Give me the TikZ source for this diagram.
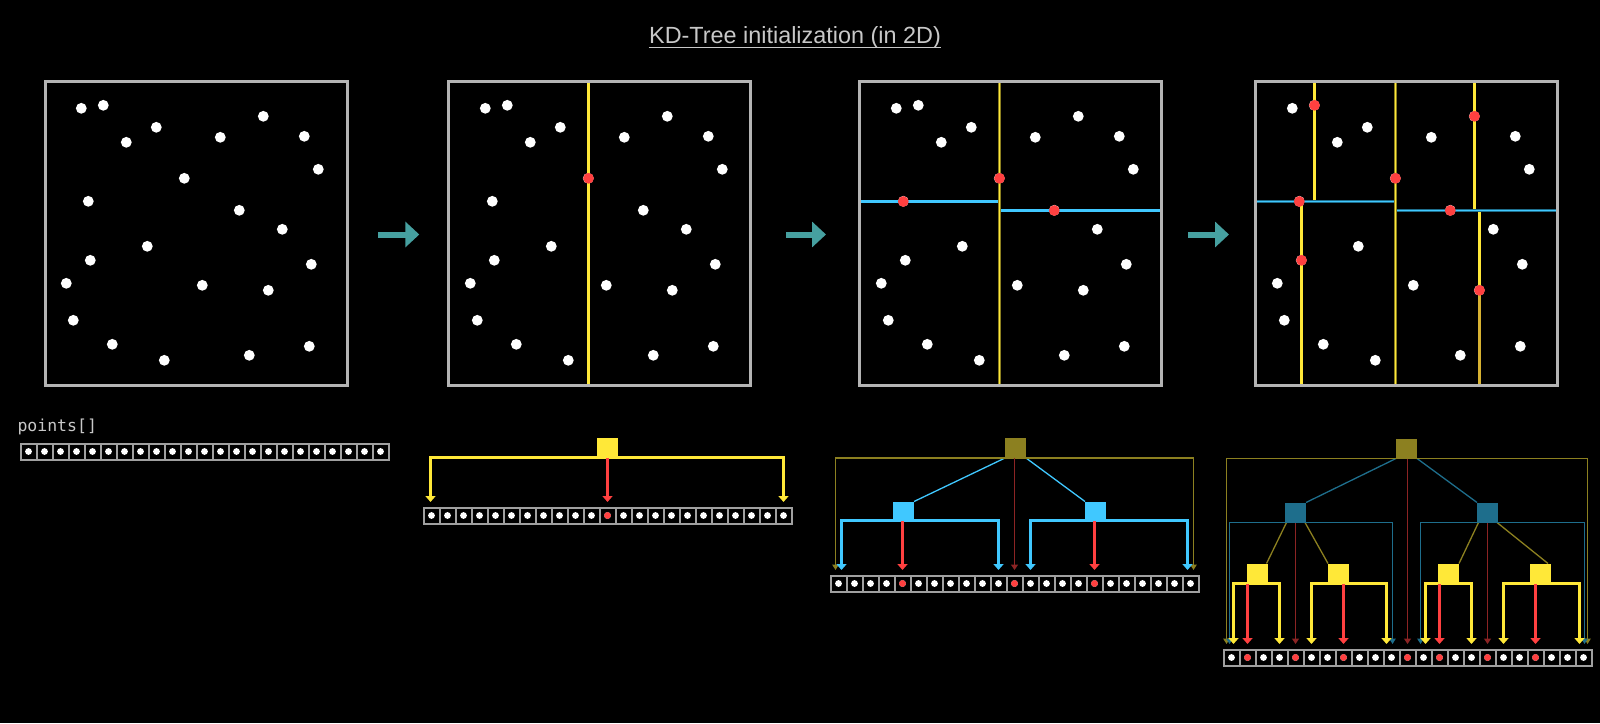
\documentclass[tikz,border=0pt]{standalone}
\usepackage{fontspec}
\setmainfont{Liberation Sans}
\newfontfamily\monof{DejaVu Sans Mono}
\usetikzlibrary{arrows.meta,calc}
\definecolor{cyel}{RGB}{255,232,56}
\definecolor{colive}{RGB}{140,128,32}
\definecolor{ccyan}{RGB}{64,200,255}
\definecolor{csteel}{RGB}{30,110,140}
\definecolor{cred}{RGB}{255,64,64}
\definecolor{cdred}{RGB}{140,36,36}
\definecolor{cgray}{RGB}{180,180,180}
\definecolor{ccell}{RGB}{160,160,160}
\definecolor{cteal}{RGB}{70,160,160}
\definecolor{ctitle}{RGB}{200,200,200}
\definecolor{cgold}{RGB}{215,178,50}
\begin{document}
\begin{tikzpicture}[x=1pt,y=-1pt,
  pbox/.style={draw=cgray,line width=3pt,minimum width=302pt,minimum height=304pt,inner sep=0pt},
  cell/.style={draw=ccell,line width=2pt,minimum width=16pt,minimum height=16pt,inner sep=0pt},
  tbox/.style={minimum width=21pt,minimum height=20pt,inner sep=0pt,outer sep=0pt},
  ybox/.style={tbox,fill=cyel},
  obox/.style={tbox,fill=colive},
  cbox/.style={tbox,fill=ccyan,minimum height=19pt},
  sbox/.style={tbox,fill=csteel},
  brY/.style={draw=cyel,line width=3pt,-{Triangle[width=10pt,length=6pt]}},
  brC/.style={draw=ccyan,line width=3pt,-{Triangle[width=10pt,length=6pt]}},
  rArr/.style={draw=cred,line width=3pt,-{Triangle[width=10pt,length=6pt]}},
  brO/.style={draw=colive,line width=1.3pt,-{Triangle[width=6.5pt,length=5.5pt]}},
  brS/.style={draw=csteel,line width=1.3pt,-{Triangle[width=6.5pt,length=5.5pt]}},
  drArr/.style={draw=cdred,line width=1.3pt,-{Triangle[width=7pt,length=5.5pt]}},
  diagC/.style={draw=ccyan,line width=1.3pt},
  diagS/.style={draw=csteel,line width=1.3pt},
  diagO/.style={draw=colive,line width=1.3pt},
  bigarr/.style={draw=cteal,line width=6pt,-{Triangle[width=25pt,length=14pt]}},
  splitY/.style={draw=cyel,line width=3pt},
  splitC/.style={draw=ccyan,line width=3pt},
]
\fill[black] (0,0) rectangle (1600,723);
\useasboundingbox (0,0) rectangle (1600,723);

% title
\node[font=\fontsize{23.4}{23.4}\selectfont,text=ctitle,inner sep=0pt,anchor=base] (T) at (795,43.3) {KD-Tree initialization (in 2D)};
\draw[ctitle,line width=1.3pt] ([yshift=-4pt]T.base west) -- ([yshift=-4pt]T.base east);

% point sets
\def\pts{81.3/108.3,103.3/105.3,156.3/127.3,126.3/142.3,220.3/137.3,263.3/116.3,304.3/136.3,318.3/169.3,184.3/178.3,88.3/201.3,239.3/210.3,282.3/229.3,147.3/246.3,90.3/260.3,311.3/264.3,66.3/283.3,202.3/285.3,268.3/290.3,73.3/320.3,112.3/344.3,309.3/346.3,164.3/360.3,249.3/355.3}
\foreach \dx in {0,404,815,1211}{
  \foreach \px/\py in \pts { \fill[white] ({\px+\dx},\py) circle (5.4); }
}

% box 2 split
\draw[splitY] (588.5,81) -- (588.5,386);
\fill[cred] (588.5,178.3) circle (5.4);

% box 3 splits
\draw[splitC] (859,201.5) -- (999.5,201.5);
\draw[splitC] (999.5,210.5) -- (1161.5,210.5);
\draw[draw=colive,line width=3pt] (999.5,81) -- (999.5,386);
\draw[draw=cyel,line width=1.2pt] (999.5,81) -- (999.5,386);
\foreach \x/\y in {999.5/178.3,903.3/201.5,1054.3/210.5} \fill[cred] (\x,\y) circle (5.4);

% box 4 splits
\draw[splitY] (1314.5,81) -- (1314.5,201.5);
\draw[splitY] (1301.5,201.5) -- (1301.5,386);
\draw[splitY] (1474.5,81) -- (1474.5,210.5);
\draw[splitY] (1479.5,210.5) -- (1479.5,290.3);
\draw[draw=cgold,line width=3pt] (1479.5,290.3) -- (1479.5,386);
\draw[draw=csteel,line width=3pt] (1255,201.5) -- (1395.5,201.5);
\draw[draw=ccyan,line width=1.2pt] (1255,201.5) -- (1395.5,201.5);
\draw[draw=csteel,line width=3pt] (1395.5,210.5) -- (1558,210.5);
\draw[draw=ccyan,line width=1.2pt] (1395.5,210.5) -- (1558,210.5);
\draw[draw=colive,line width=3pt] (1395.5,81) -- (1395.5,386);
\draw[draw=cyel,line width=1.2pt] (1395.5,81) -- (1395.5,386);
\foreach \x/\y in {1395.5/178.3,1299.3/201.5,1450.3/210.5,1314.5/105.3,1301.5/260.3,1474.5/116.3,1479.5/290.3} \fill[cred] (\x,\y) circle (5.4);

% boxes
\node[pbox] (B1) at (196.5,233.5) {};
\node[pbox] (B2) at (599.5,233.5) {};
\node[pbox] (B3) at (1010.5,233.5) {};
\node[pbox] (B4) at (1406.5,233.5) {};

% arrows between boxes
\coordinate (A1s) at (378,234.5); \coordinate (A1e) at (419.3,234.5);
\coordinate (A2s) at (786,234.5); \coordinate (A2e) at (826,234.5);
\coordinate (A3s) at (1188,234.5); \coordinate (A3e) at (1229,234.5);
\draw[bigarr] (A1s) -- (A1e);
\draw[bigarr] (A2s) -- (A2e);
\draw[bigarr] (A3s) -- (A3e);

% label
\node[font=\monof\fontsize{16.5}{16.5}\selectfont,text=ctitle,inner sep=0pt,anchor=base west] (L) at (17.3,431.7) {points[]};

% arrays
\foreach \i in {0,...,22}{
  \node[cell] (a1c\i) at ({20.5+16*\i+8},451.5) {};
  \node[cell] (a2c\i) at ({423.5+16*\i+8},515.5) {};
  \node[cell] (a3c\i) at ({830.5+16*\i+8},583.5) {};
  \node[cell] (a4c\i) at ({1223.5+16*\i+8},657.5) {};
  \fill[white] (a1c\i) circle (3.4);
  \fill[white] (a2c\i) circle (3.4);
  \fill[white] (a3c\i) circle (3.4);
  \fill[white] (a4c\i) circle (3.4);
}
\fill[cred] (a2c11) circle (3.4);
\foreach \i in {4,11,16} \fill[cred] (a3c\i) circle (3.4);
\foreach \i in {1,4,7,11,13,16,19} \fill[cred] (a4c\i) circle (3.4);

% ---- tree 2
\node[ybox] (Y2) at (607.5,447.5) {};
\draw[brY] (Y2.south) -| ([xshift=-1pt,yshift=4.5pt]a2c0.north);
\draw[brY] (Y2.south) -| ([yshift=4.5pt]a2c22.north);
\draw[rArr] (Y2.south -| a2c11.north) -- ([yshift=4.5pt]a2c11.north);
\node[ybox] at (Y2) {};

% ---- tree 3
\node[obox] (O3) at (1015.5,448) {};
\node[cbox] (C3L) at (903.5,511) {};
\node[cbox] (C3R) at (1095.5,511) {};
\draw[diagC] (O3.south west) -- (C3L.north east);
\draw[diagC] (O3.south east) -- (C3R.north west);
\draw[brO] (O3.south) -| ([xshift=-3pt,yshift=4.5pt]a3c0.north);
\draw[brO] (O3.south) -| ([xshift=3pt,yshift=4.5pt]a3c22.north);
\draw[drArr] (O3.south -| a3c11.north) -- ([yshift=4.5pt]a3c11.north);
\draw[brC] (C3L.south) -| ([xshift=3pt,yshift=4.5pt]a3c0.north);
\draw[brC] (C3L.south) -| ([yshift=4.5pt]a3c10.north);
\draw[brC] (C3R.south) -| ([yshift=4.5pt]a3c12.north);
\draw[brC] (C3R.south) -| ([xshift=-3pt,yshift=4.5pt]a3c22.north);
\draw[rArr] (C3L.south -| a3c4.north) -- ([yshift=4.5pt]a3c4.north);
\draw[rArr] (C3R.south -| a3c16.north) -- ([yshift=4.5pt]a3c16.north);
\node[obox] at (O3) {};
\node[cbox] at (C3L) {};
\node[cbox] at (C3R) {};

% ---- tree 4
\node[obox] (O4) at (1406.5,448.5) {};
\node[sbox] (S4L) at (1295.5,512.5) {};
\node[sbox] (S4R) at (1487.5,512.5) {};
\node[ybox] (Y4a) at (1257.5,573.5) {};
\node[ybox] (Y4b) at (1338.5,573.5) {};
\node[ybox] (Y4c) at (1448.5,573.5) {};
\node[ybox] (Y4d) at (1540.5,573.5) {};
\draw[diagS] (O4.south west) -- (S4L.north east);
\draw[diagS] (O4.south east) -- (S4R.north west);
\draw[diagO] ([xshift=1.5pt]S4L.south west) -- ([xshift=-1.5pt]Y4a.north east);
\draw[diagO] ([xshift=-1pt]S4L.south east) -- (Y4b.north west);
\draw[diagO] ([xshift=1.5pt]S4R.south west) -- (Y4c.north east);
\draw[diagO] ([xshift=-1pt]S4R.south east) -- ([xshift=-3pt]Y4d.north east);
\draw[brO] (O4.south) -| ([xshift=-5pt,yshift=4.5pt]a4c0.north);
\draw[brO] (O4.south) -| ([xshift=4pt,yshift=4.5pt]a4c22.north);
\draw[drArr] (O4.south -| a4c11.north) -- ([yshift=4.5pt]a4c11.north);
\draw[brS] (S4L.south) -| ([xshift=-2pt,yshift=4.5pt]a4c0.north);
\draw[brS] (S4L.south) -| ([xshift=1pt,yshift=4.5pt]a4c10.north);
\draw[brS] (S4R.south) -| ([xshift=-3pt,yshift=4.5pt]a4c12.north);
\draw[brS] (S4R.south) -| ([xshift=1pt,yshift=4.5pt]a4c22.north);
\draw[drArr] (S4L.south -| a4c4.north) -- ([yshift=4.5pt]a4c4.north);
\draw[drArr] (S4R.south -| a4c16.north) -- ([yshift=4.5pt]a4c16.north);
\draw[brY] (Y4a.south) -| ([xshift=2pt,yshift=4.5pt]a4c0.north);
\draw[brY] (Y4a.south) -| ([yshift=4.5pt]a4c3.north);
\draw[brY] (Y4b.south) -| ([yshift=4.5pt]a4c5.north);
\draw[brY] (Y4b.south) -| ([xshift=-5pt,yshift=4.5pt]a4c10.north);
\draw[brY] (Y4c.south) -| ([xshift=2pt,yshift=4.5pt]a4c12.north);
\draw[brY] (Y4c.south) -| ([yshift=4.5pt]a4c15.north);
\draw[brY] (Y4d.south) -| ([yshift=4.5pt]a4c17.north);
\draw[brY] (Y4d.south) -| ([xshift=-4pt,yshift=4.5pt]a4c22.north);
\draw[rArr] (Y4a.south -| a4c1.north) -- ([yshift=4.5pt]a4c1.north);
\draw[rArr] (Y4b.south -| a4c7.north) -- ([yshift=4.5pt]a4c7.north);
\draw[rArr] (Y4c.south -| a4c13.north) -- ([yshift=4.5pt]a4c13.north);
\draw[rArr] (Y4d.south -| a4c19.north) -- ([yshift=4.5pt]a4c19.north);
\node[obox] at (O4) {};
\node[sbox] at (S4L) {};
\node[sbox] at (S4R) {};
\node[ybox] at (Y4a) {};
\node[ybox] at (Y4b) {};
\node[ybox] at (Y4c) {};
\node[ybox] at (Y4d) {};
\end{tikzpicture}
\end{document}
